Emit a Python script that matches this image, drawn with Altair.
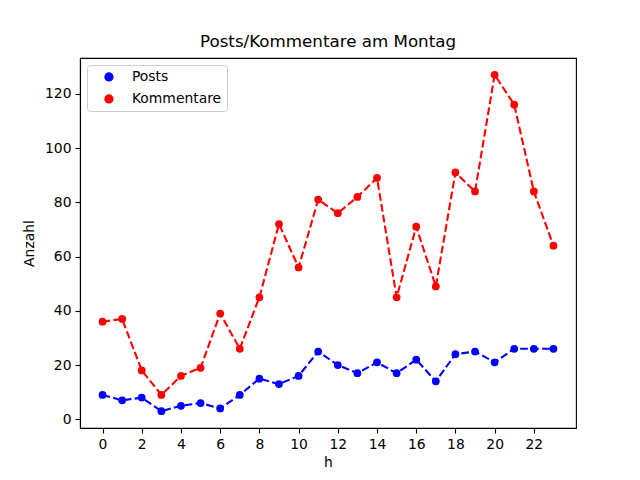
import altair as alt
import pandas as pd

hours = list(range(24))
posts = [9, 7, 8, 3, 5, 6, 4, 9, 15, 13, 16, 25, 20, 17, 21, 17, 22, 14, 24, 25, 21, 26, 26, 26]
kommentare = [36, 37, 18, 9, 16, 19, 39, 26, 45, 72, 56, 81, 76, 82, 89, 45, 71, 49, 91, 84, 127, 116, 84, 64]
series = ["Posts", "Kommentare"]
colors = ["#0000ff", "#ff0000"]
x_ticks = list(range(0, 24, 2))
y_ticks = list(range(0, 121, 20))

df = pd.DataFrame({"h": hours, "Posts": posts, "Kommentare": kommentare})
long = df.melt(id_vars="h", value_vars=series, var_name="Serie", value_name="Anzahl")

FONT = "DejaVu Sans"

x = alt.X("h:Q", title="h",
          scale=alt.Scale(domain=[-1.15, 24.15], nice=False, zero=False),
          axis=alt.Axis(values=x_ticks, format="d"))
y = alt.Y("Anzahl:Q", title="Anzahl",
          scale=alt.Scale(domain=[-3.2, 133.2], nice=False, zero=False),
          axis=alt.Axis(values=y_ticks, format="d", titlePadding=8))
color = alt.Color("Serie:N", sort=series,
                  scale=alt.Scale(domain=series, range=colors),
                  legend=alt.Legend(title=None, orient="none", legendX=7, legendY=7,
                                    symbolType="circle", symbolSize=60,
                                    labelFontSize=13.9, labelFont=FONT,
                                    labelColor="black",
                                    symbolOffset=10, labelOffset=16,
                                    rowPadding=7, padding=5,
                                    strokeColor="#cccccc", fillColor="white",
                                    cornerRadius=3))

base = alt.Chart(long).encode(x=x, y=y, color=color, detail="Serie:N")

lines = base.mark_line(strokeDash=[7.7, 3.3], strokeWidth=2.1)
points = base.mark_point(filled=True, opacity=1, size=60, shape="circle")

chart = alt.layer(lines, points).properties(
    width=496, height=370,
    title=alt.TitleParams("Posts/Kommentare am Montag", font=FONT, fontSize=16.7,
                          fontWeight="normal", color="black", offset=7),
    autosize=alt.AutoSizeParams(type="none"),
    padding={"left": 72, "top": 50, "right": 56, "bottom": 44},
).configure_view(stroke="black", strokeWidth=1.1
).configure_axis(
    grid=False, domainColor="black", domainWidth=1.1,
    tickColor="black", tickSize=5, tickWidth=1.1,
    labelFont=FONT, labelFontSize=13.9, labelColor="black", labelPadding=4,
    titleFont=FONT, titleFontSize=13.9, titleColor="black", titleFontWeight="normal",
    titlePadding=5,
)

chart.save("out.html", embed_options={"renderer": "svg", "actions": False})
